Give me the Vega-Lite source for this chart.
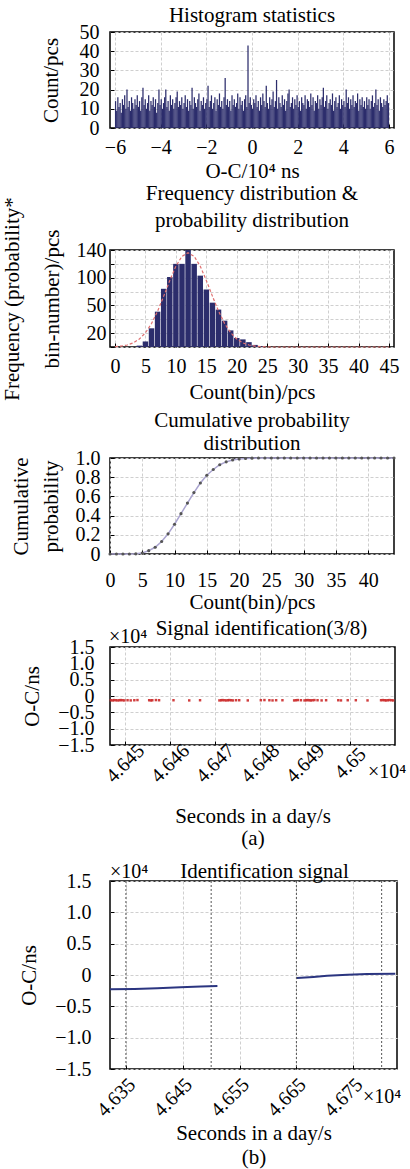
{
"$schema": "https://vega.github.io/schema/vega-lite/v6.json",
"background": "white",
"padding": {"left": 0, "top": 4, "right": 0, "bottom": 0},
"spacing": -1,
"config": {
 "font": "Liberation Serif",
 "view": {"stroke": "#000", "strokeWidth": 1.5},
 "axis": {"labelFont": "Liberation Serif", "titleFont": "Liberation Serif", "labelFontSize": 20, "titleFontSize": 21, "titleFontWeight": "normal", "labelColor": "#000", "titleColor": "#000", "domain": false, "tickSize": -4, "tickColor": "#000", "tickWidth": 1, "gridColor": "#cfcfcf", "gridDash": [3, 2], "labelOverlap": false, "labelFlush": false, "labelBound": false},
 "title": {"font": "Liberation Serif", "fontSize": 21, "fontWeight": "normal", "color": "#000", "frame": "group"}
},
"datasets": {
 "h1": [
{"x":-5.975,"c":14},{"x":-5.925,"c":9},{"x":-5.875,"c":16},{"x":-5.825,"c":11},{"x":-5.775,"c":13},{"x":-5.725,"c":8},{"x":-5.675,"c":15},{"x":-5.625,"c":12},{"x":-5.575,"c":17},{"x":-5.525,"c":10},{"x":-5.475,"c":20},{"x":-5.425,"c":11},{"x":-5.375,"c":14},{"x":-5.325,"c":9},{"x":-5.275,"c":16},{"x":-5.225,"c":13},{"x":-5.175,"c":10},{"x":-5.125,"c":15},{"x":-5.075,"c":12},{"x":-5.025,"c":17},
{"x":-4.975,"c":11},{"x":-4.925,"c":14},{"x":-4.875,"c":9},{"x":-4.825,"c":16},{"x":-4.775,"c":21},{"x":-4.725,"c":12},{"x":-4.675,"c":15},{"x":-4.625,"c":10},{"x":-4.575,"c":13},{"x":-4.525,"c":17},{"x":-4.475,"c":9},{"x":-4.425,"c":14},{"x":-4.375,"c":12},{"x":-4.325,"c":16},{"x":-4.275,"c":11},{"x":-4.225,"c":15},{"x":-4.175,"c":8},{"x":-4.125,"c":13},{"x":-4.075,"c":20},{"x":-4.025,"c":12},
{"x":-3.975,"c":15},{"x":-3.925,"c":10},{"x":-3.875,"c":13},{"x":-3.825,"c":16},{"x":-3.775,"c":20},{"x":-3.725,"c":11},{"x":-3.675,"c":14},{"x":-3.625,"c":9},{"x":-3.575,"c":17},{"x":-3.525,"c":12},{"x":-3.475,"c":15},{"x":-3.425,"c":10},{"x":-3.375,"c":13},{"x":-3.325,"c":16},{"x":-3.275,"c":19},{"x":-3.225,"c":11},{"x":-3.175,"c":14},{"x":-3.125,"c":12},{"x":-3.075,"c":16},{"x":-3.025,"c":10},
{"x":-2.975,"c":13},{"x":-2.925,"c":17},{"x":-2.875,"c":11},{"x":-2.825,"c":15},{"x":-2.775,"c":9},{"x":-2.725,"c":14},{"x":-2.675,"c":12},{"x":-2.625,"c":21},{"x":-2.575,"c":10},{"x":-2.525,"c":16},{"x":-2.475,"c":13},{"x":-2.425,"c":11},{"x":-2.375,"c":15},{"x":-2.325,"c":18},{"x":-2.275,"c":9},{"x":-2.225,"c":14},{"x":-2.175,"c":12},{"x":-2.125,"c":16},{"x":-2.075,"c":10},{"x":-2.025,"c":13},
{"x":-1.975,"c":15},{"x":-1.925,"c":22},{"x":-1.875,"c":11},{"x":-1.825,"c":14},{"x":-1.775,"c":17},{"x":-1.725,"c":10},{"x":-1.675,"c":13},{"x":-1.625,"c":16},{"x":-1.575,"c":9},{"x":-1.525,"c":15},{"x":-1.475,"c":12},{"x":-1.425,"c":18},{"x":-1.375,"c":11},{"x":-1.325,"c":14},{"x":-1.275,"c":10},{"x":-1.225,"c":16},{"x":-1.175,"c":26},{"x":-1.125,"c":12},{"x":-1.075,"c":15},{"x":-1.025,"c":11},
{"x":-0.975,"c":14},{"x":-0.925,"c":9},{"x":-0.875,"c":17},{"x":-0.825,"c":12},{"x":-0.775,"c":15},{"x":-0.725,"c":11},{"x":-0.675,"c":13},{"x":-0.625,"c":18},{"x":-0.575,"c":10},{"x":-0.525,"c":16},{"x":-0.475,"c":12},{"x":-0.425,"c":14},{"x":-0.375,"c":9},{"x":-0.325,"c":15},{"x":-0.275,"c":17},{"x":-0.225,"c":11},{"x":-0.175,"c":43},{"x":-0.125,"c":13},{"x":-0.075,"c":16},{"x":-0.025,"c":12},
{"x":0.025,"c":10},{"x":0.075,"c":15},{"x":0.125,"c":13},{"x":0.175,"c":17},{"x":0.225,"c":11},{"x":0.275,"c":14},{"x":0.325,"c":9},{"x":0.375,"c":16},{"x":0.425,"c":12},{"x":0.475,"c":18},{"x":0.525,"c":14},{"x":0.575,"c":11},{"x":0.625,"c":22},{"x":0.675,"c":13},{"x":0.725,"c":10},{"x":0.775,"c":16},{"x":0.825,"c":12},{"x":0.875,"c":15},{"x":0.925,"c":19},{"x":0.975,"c":11},
{"x":1.025,"c":14},{"x":1.075,"c":25},{"x":1.125,"c":10},{"x":1.175,"c":16},{"x":1.225,"c":13},{"x":1.275,"c":11},{"x":1.325,"c":17},{"x":1.375,"c":12},{"x":1.425,"c":15},{"x":1.475,"c":9},{"x":1.525,"c":14},{"x":1.575,"c":18},{"x":1.625,"c":20},{"x":1.675,"c":11},{"x":1.725,"c":13},{"x":1.775,"c":16},{"x":1.825,"c":10},{"x":1.875,"c":15},{"x":1.925,"c":12},{"x":1.975,"c":17},
{"x":2.025,"c":11},{"x":2.075,"c":14},{"x":2.125,"c":9},{"x":2.175,"c":16},{"x":2.225,"c":13},{"x":2.275,"c":12},{"x":2.325,"c":17},{"x":2.375,"c":10},{"x":2.425,"c":15},{"x":2.475,"c":14},{"x":2.525,"c":11},{"x":2.575,"c":18},{"x":2.625,"c":12},{"x":2.675,"c":16},{"x":2.725,"c":9},{"x":2.775,"c":14},{"x":2.825,"c":13},{"x":2.875,"c":17},{"x":2.925,"c":10},{"x":2.975,"c":15},
{"x":3.025,"c":12},{"x":3.075,"c":16},{"x":3.125,"c":21},{"x":3.175,"c":11},{"x":3.225,"c":14},{"x":3.275,"c":17},{"x":3.325,"c":10},{"x":3.375,"c":13},{"x":3.425,"c":15},{"x":3.475,"c":12},{"x":3.525,"c":18},{"x":3.575,"c":9},{"x":3.625,"c":14},{"x":3.675,"c":16},{"x":3.725,"c":11},{"x":3.775,"c":13},{"x":3.825,"c":17},{"x":3.875,"c":10},{"x":3.925,"c":15},{"x":3.975,"c":12},
{"x":4.025,"c":14},{"x":4.075,"c":11},{"x":4.125,"c":20},{"x":4.175,"c":13},{"x":4.225,"c":16},{"x":4.275,"c":10},{"x":4.325,"c":15},{"x":4.375,"c":12},{"x":4.425,"c":17},{"x":4.475,"c":11},{"x":4.525,"c":14},{"x":4.575,"c":13},{"x":4.625,"c":18},{"x":4.675,"c":9},{"x":4.725,"c":15},{"x":4.775,"c":12},{"x":4.825,"c":16},{"x":4.875,"c":11},{"x":4.925,"c":14},{"x":4.975,"c":10},
{"x":5.025,"c":16},{"x":5.075,"c":12},{"x":5.125,"c":15},{"x":5.175,"c":10},{"x":5.225,"c":14},{"x":5.275,"c":17},{"x":5.325,"c":11},{"x":5.375,"c":13},{"x":5.425,"c":20},{"x":5.475,"c":12},{"x":5.525,"c":15},{"x":5.575,"c":9},{"x":5.625,"c":16},{"x":5.675,"c":13},{"x":5.725,"c":11},{"x":5.775,"c":15},{"x":5.825,"c":12},{"x":5.875,"c":14},{"x":5.925,"c":17},{"x":5.975,"c":13}
 ],
 "h2": [
{"x":0,"c":0,"f":0.5},{"x":1,"c":0,"f":1.3},{"x":2,"c":0,"f":2.9},{"x":3,"c":0,"f":6},{"x":4,"c":2,"f":11.5},{"x":5,"c":8,"f":20.5},{"x":6,"c":27,"f":33.9},{"x":7,"c":51,"f":51.8},{"x":8,"c":84,"f":73.4},{"x":9,"c":101,"f":96.1},{"x":10,"c":120,"f":116.6},{"x":11,"c":120,"f":130.9},{"x":12,"c":140,"f":136},{"x":13,"c":120,"f":130.9},{"x":14,"c":103,"f":116.6},{"x":15,"c":83,"f":96.1},{"x":16,"c":64,"f":73.4},{"x":17,"c":54,"f":51.8},{"x":18,"c":38,"f":33.9},{"x":19,"c":24,"f":20.5},{"x":20,"c":13,"f":11.5},{"x":21,"c":11,"f":6},{"x":22,"c":7,"f":2.9},{"x":23,"c":3,"f":1.3},{"x":24,"c":1,"f":0.5},{"x":25,"c":0,"f":0.2},{"x":26,"c":0,"f":0},{"x":27,"c":0,"f":0},{"x":28,"c":0,"f":0},{"x":29,"c":0,"f":0},{"x":30,"c":0,"f":0},{"x":31,"c":0,"f":0},{"x":32,"c":0,"f":0},{"x":33,"c":0,"f":0},{"x":34,"c":0,"f":0},{"x":35,"c":0,"f":0},{"x":36,"c":0,"f":0},{"x":37,"c":0,"f":0},{"x":38,"c":0,"f":0},{"x":39,"c":0,"f":0},{"x":40,"c":0,"f":0},{"x":41,"c":0,"f":0},{"x":42,"c":0,"f":0},{"x":43,"c":0,"f":0},{"x":44,"c":0,"f":0},{"x":45,"c":0,"f":0}
 ],
 "h3": [
{"x":0,"p":0},{"x":1,"p":0},{"x":2,"p":0},{"x":3,"p":0},{"x":4,"p":0.002},{"x":5,"p":0.01},{"x":6,"p":0.035},{"x":7,"p":0.07},{"x":8,"p":0.13},{"x":9,"p":0.21},{"x":10,"p":0.31},{"x":11,"p":0.42},{"x":12,"p":0.53},{"x":13,"p":0.64},{"x":14,"p":0.74},{"x":15,"p":0.82},{"x":16,"p":0.88},{"x":17,"p":0.93},{"x":18,"p":0.96},{"x":19,"p":0.98},{"x":20,"p":0.99},{"x":21,"p":0.995},{"x":22,"p":0.998},{"x":23,"p":1},{"x":24,"p":1},{"x":25,"p":1},{"x":26,"p":1},{"x":27,"p":1},{"x":28,"p":1},{"x":29,"p":1},{"x":30,"p":1},{"x":31,"p":1},{"x":32,"p":1},{"x":33,"p":1},{"x":34,"p":1},{"x":35,"p":1},{"x":36,"p":1},{"x":37,"p":1},{"x":38,"p":1},{"x":39,"p":1},{"x":40,"p":1},{"x":41,"p":1},{"x":42,"p":1},{"x":43,"p":1},{"x":44,"p":1}
 ],
 "h4": [
{"s":46446.9,"y":-1300},{"s":46447.3,"y":-1350},{"s":46447.6,"y":-1250},{"s":46448.0,"y":-1300},{"s":46448.4,"y":-1350},{"s":46448.8,"y":-1300},{"s":46449.1,"y":-1250},{"s":46449.5,"y":-1300},{"s":46449.9,"y":-1350},{"s":46450.6,"y":-1300},{"s":46451.3,"y":-1350},{"s":46452.1,"y":-1300},{"s":46452.8,"y":-1250},{"s":46455.4,"y":-1300},{"s":46455.8,"y":-1350},{"s":46456.1,"y":-1300},{"s":46456.9,"y":-1250},{"s":46457.6,"y":-1300},{"s":46460.8,"y":-1300},{"s":46464.3,"y":-1350},{"s":46466.7,"y":-1300},{"s":46471.0,"y":-1350},{"s":46471.4,"y":-1300},{"s":46471.7,"y":-1250},{"s":46472.1,"y":-1300},{"s":46472.5,"y":-1350},{"s":46472.9,"y":-1300},{"s":46473.2,"y":-1250},{"s":46473.6,"y":-1300},{"s":46474.0,"y":-1350},{"s":46474.7,"y":-1300},{"s":46475.4,"y":-1300},{"s":46477.3,"y":-1350},{"s":46480.2,"y":-1300},{"s":46481.0,"y":-1250},{"s":46482.1,"y":-1300},{"s":46482.8,"y":-1350},{"s":46483.6,"y":-1300},{"s":46485.0,"y":-1300},{"s":46487.6,"y":-1350},{"s":46488.0,"y":-1300},{"s":46488.4,"y":-1250},{"s":46489.1,"y":-1300},{"s":46489.9,"y":-1350},{"s":46490.3,"y":-1300},{"s":46490.6,"y":-1250},{"s":46491.0,"y":-1300},{"s":46491.3,"y":-1350},{"s":46491.7,"y":-1300},{"s":46492.1,"y":-1250},{"s":46492.8,"y":-1300},{"s":46493.7,"y":-1350},{"s":46494.7,"y":-1300},{"s":46497.4,"y":-1300},{"s":46498.0,"y":-1350},{"s":46499.5,"y":-1300},{"s":46501.3,"y":-1300},{"s":46503.9,"y":-1350},{"s":46506.9,"y":-1300},{"s":46507.3,"y":-1250},{"s":46507.7,"y":-1300},{"s":46508.0,"y":-1350},{"s":46508.4,"y":-1300},{"s":46508.8,"y":-1250},{"s":46509.2,"y":-1300},{"s":46509.6,"y":-1350}
 ],
 "h5": [
{"s":46322,"y":-2290,"seg":"a"},{"s":46365,"y":-2220,"seg":"a"},{"s":46405,"y":-2110,"seg":"a"},{"s":46446,"y":-1960,"seg":"a"},{"s":46482,"y":-1840,"seg":"a"},{"s":46511,"y":-1740,"seg":"a"},
{"s":46651,"y":-490,"seg":"b"},{"s":46680,"y":-300,"seg":"b"},{"s":46704,"y":-110,"seg":"b"},{"s":46740,"y":40,"seg":"b"},{"s":46774,"y":150,"seg":"b"},{"s":46824,"y":210,"seg":"b"}
 ],
 "h5r": [{"r":46350},{"r":46500},{"r":46650},{"r":46800}]
},
"vconcat": [
 {
  "width": 284, "height": 96,
  "title": {"text": "Histogram statistics", "offset": -4},
  "data": {"name": "h1"},
  "mark": {"type": "bar", "width": 1.25, "color": "#2c2d6c"},
  "encoding": {
   "x": {"field": "x", "type": "quantitative", "scale": {"domain": [-6, 6], "nice": false},
         "axis": {"values": [-6, -4, -2, 0, 2, 4, 6], "tickCount": 50, "format": "d", "title": "O-C/10⁴ ns", "labelPadding": 13, "titlePadding": 3, "labelOverlap": false, "labelFlush": false}},
   "y": {"field": "c", "type": "quantitative", "scale": {"domain": [0, 50], "nice": false},
         "axis": {"values": [0, 10, 20, 30, 40, 50], "tickCount": 50, "format": "d", "title": "Count/pcs", "labelPadding": 15, "titlePadding": 18, "labelOverlap": false, "labelFlush": false}}
  }
 },
 {
  "width": 284, "height": 97,
  "title": {"text": ["Frequency distribution &", "probability distribution"], "offset": -34, "lineHeight": 27},
  "data": {"name": "h2"},
  "encoding": {
   "x": {"field": "x", "type": "quantitative", "scale": {"domain": [0, 45], "nice": false},
         "axis": {"values": [0, 5, 10, 15, 20, 25, 30, 35, 40, 45], "tickCount": 50, "format": "d", "title": ["Count(bin)/pcs", ""], "titleLineHeight": 7, "labelPadding": 13, "titlePadding": 5, "labelOverlap": false, "labelFlush": false}}
  },
  "layer": [
   {"mark": {"type": "bar", "width": 5.5, "color": "#2c2d6c"},
    "encoding": {"y": {"field": "c", "type": "quantitative", "scale": {"domain": [0, 140], "nice": false},
      "axis": {"values": [0, 20, 40, 60, 80, 100, 120, 140], "tickCount": 50, "labelExpr": "datum.value == 140 ? '140' : datum.value == 100 ? '100' : datum.value == 60 ? '50' : datum.value == 20 ? '20' : ''",
               "title": ["Frequency (probability*", "bin-number)/pcs"], "titleLineHeight": 40, "labelPadding": 8, "titlePadding": 14, "labelOverlap": false, "labelFlush": false}}}},
   {"mark": {"type": "line", "color": "#e07070", "strokeDash": [3, 2], "strokeWidth": 1.2},
    "encoding": {"y": {"field": "f", "type": "quantitative"}}}
  ]
 },
 {
  "width": 284, "height": 96,
  "title": {"text": ["Cumulative probability", "distribution"], "offset": -6, "lineHeight": 23},
  "data": {"name": "h3"},
  "encoding": {
   "x": {"field": "x", "type": "quantitative", "scale": {"domain": [0, 44], "nice": false},
         "axis": {"values": [0, 5, 10, 15, 20, 25, 30, 35, 40], "tickCount": 50, "format": "d", "title": ["Count(bin)/pcs", ""], "titleLineHeight": 5, "labelPadding": 20, "titlePadding": 1, "labelOverlap": false, "labelFlush": false}},
   "y": {"field": "p", "type": "quantitative", "scale": {"domain": [0, 1], "nice": false},
         "axis": {"values": [0, 0.2, 0.4, 0.6, 0.8, 1], "tickCount": 50, "labelExpr": "datum.value == 0 ? '0' : format(datum.value, '.1f')",
                  "title": ["Cumulative", "probability"], "titleLineHeight": 30, "labelPadding": 14, "titlePadding": 14, "labelOverlap": false, "labelFlush": false}}
  },
  "layer": [
   {"mark": {"type": "line", "color": "#aaa4d0", "strokeWidth": 1.5}},
   {"mark": {"type": "point", "filled": true, "size": 10, "color": "#555", "opacity": 1}}
  ]
 },
 {
  "width": 285, "height": 98,
  "title": {"text": "Signal identification(3/8)", "offset": -12, "dx": 9},
  "layer": [
   {"data": {"name": "h4"},
    "mark": {"type": "point", "filled": true, "shape": "square", "size": 6, "color": "#cc2a2a", "opacity": 0.9},
    "encoding": {
     "x": {"field": "s", "type": "quantitative", "scale": {"domain": [46446.7, 46510], "nice": false, "zero": false},
           "axis": {"values": [46450, 46460, 46470, 46480, 46490, 46500], "tickCount": 50, "labelExpr": "format(datum.value / 10000, '.4~r')",
                    "labelAngle": -45, "labelAlign": "center", "labelBaseline": "middle", "labelPadding": 22,
                    "title": ["Seconds in a day/s", "(a)"], "titleLineHeight": 22, "titlePadding": 20, "labelOverlap": false, "labelFlush": false}},
     "y": {"field": "y", "type": "quantitative", "scale": {"domain": [-15000, 15000], "nice": false},
           "axis": {"values": [-15000, -10000, -5000, 0, 5000, 10000, 15000], "tickCount": 50, "labelExpr": "datum.value == 0 ? '0' : format(datum.value / 10000, '.1f')",
                    "title": "O-C/ns", "labelPadding": 20, "titlePadding": 15, "labelOverlap": false, "labelFlush": false}}
    }},
   {"data": {"values": [{"s": 46446.7, "y": 15000, "t": "×10⁴"}]},
    "mark": {"type": "text", "align": "left", "baseline": "alphabetic", "dx": -1, "dy": -4, "fontSize": 20, "font": "Liberation Serif"},
    "encoding": {"x": {"field": "s", "type": "quantitative"}, "y": {"field": "y", "type": "quantitative"}, "text": {"field": "t"}}},
   {"data": {"values": [{"s": 46510, "y": -15000, "t": "×10⁴"}]},
    "mark": {"type": "text", "align": "left", "baseline": "middle", "dx": -27, "dy": 27, "fontSize": 20, "font": "Liberation Serif"},
    "encoding": {"x": {"field": "s", "type": "quantitative"}, "y": {"field": "y", "type": "quantitative"}, "text": {"field": "t"}}}
  ]
 },
 {
  "width": 287, "height": 188,
  "title": {"text": ["", "Identification signal"], "offset": -20, "dx": 11, "lineHeight": 11},
  "layer": [
   {"data": {"name": "h5r"},
    "mark": {"type": "rule", "color": "#555", "strokeDash": [2, 2], "strokeWidth": 1},
    "encoding": {"x": {"field": "r", "type": "quantitative"}}},
   {"data": {"name": "h5"},
    "mark": {"type": "line", "color": "#2b3580", "strokeWidth": 2},
    "encoding": {
     "x": {"field": "s", "type": "quantitative", "scale": {"domain": [46322, 46827], "nice": false, "zero": false},
           "axis": {"values": [46350, 46450, 46550, 46650, 46750], "tickCount": 50, "labelExpr": "format(datum.value / 10000, '.4~r')",
                    "labelAngle": -45, "labelAlign": "center", "labelBaseline": "middle", "labelPadding": 32, "labelOffset": -10,
                    "title": ["Seconds in a day/s", "(b)"], "titleLineHeight": 24, "titlePadding": 3, "labelOverlap": false, "labelFlush": false}},
     "y": {"field": "y", "type": "quantitative", "scale": {"domain": [-15000, 15000], "nice": false},
           "axis": {"values": [-15000, -10000, -5000, 0, 5000, 10000, 15000], "tickCount": 50, "labelExpr": "datum.value == 0 ? '0' : format(datum.value / 10000, '.1f')",
                    "title": "O-C/ns", "labelPadding": 23, "titlePadding": 15, "labelOverlap": false, "labelFlush": false}},
     "detail": {"field": "seg"}
    }},
   {"data": {"values": [{"s": 46322, "y": 15000, "t": "×10⁴"}]},
    "mark": {"type": "text", "align": "left", "baseline": "alphabetic", "dx": 0, "dy": -3, "fontSize": 20, "font": "Liberation Serif"},
    "encoding": {"x": {"field": "s", "type": "quantitative"}, "y": {"field": "y", "type": "quantitative"}, "text": {"field": "t"}}},
   {"data": {"values": [{"s": 46827, "y": -15000, "t": "×10⁴"}]},
    "mark": {"type": "text", "align": "left", "baseline": "middle", "dx": -34, "dy": 28, "fontSize": 20, "font": "Liberation Serif"},
    "encoding": {"x": {"field": "s", "type": "quantitative"}, "y": {"field": "y", "type": "quantitative"}, "text": {"field": "t"}}}
  ]
 }
]
}
